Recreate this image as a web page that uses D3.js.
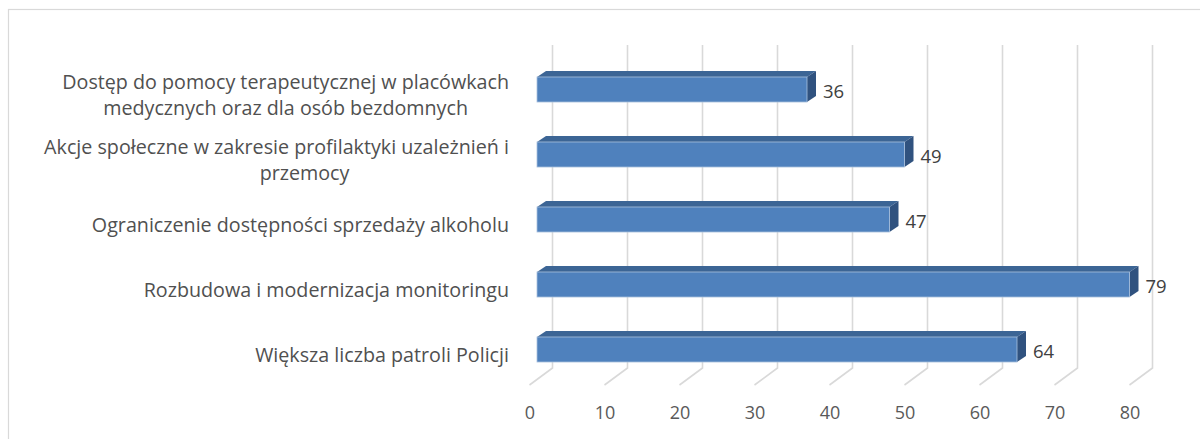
<!DOCTYPE html>
<html>
<head>
<meta charset="utf-8">
<script src="https://cdn.jsdelivr.net/npm/d3@7"></script>
<style>
  body { margin: 0; background: #fff; }
  svg { display: block; }
  .catLabel { font-family: "Open Sans", sans-serif; font-size: 19.7px; fill: #505050; }
  .tickLabel { font-family: "Open Sans", sans-serif; font-size: 18px; fill: #595959; }
  .valueLabel { font-family: "Open Sans", sans-serif; font-size: 18.5px; fill: #404040; }
</style>
</head>
<body>
<div id="chart"></div>
<script>
const WIDTH = 1200;
const HEIGHT = 439;

// data
const categories = [
    "Dostęp do pomocy terapeutycznej w placówkach\nmedycznych oraz dla osób bezdomnych",
    "Akcje społeczne w zakresie profilaktyki uzależnień i\nprzemocy",
    "Ograniczenie dostępności sprzedaży alkoholu",
    "Rozbudowa i modernizacja monitoringu",
    "Większa liczba patroli Policji"
];
const values = [36, 49, 47, 79, 64];
const tickValues = [0, 10, 20, 30, 40, 50, 60, 70, 80];

// 3d geometry (pixel offsets)
const FLOOR_FRONT_X = 529.5;
const FLOOR_DX = 23;
const FLOOR_DY = 17;
const GRID_TOP = 45;
const GRID_BOTTOM = 368;
const BAR_X0 = 537;
const BAR_DX = 9;
const BAR_DY = -6;
const LABEL_RIGHT = 509;
// excel wraps this one a bit off-centre
const LINE_NUDGE = { "przemocy": 28 };

let x = d3.scaleLinear().domain([0, 80]).range([0, 600]);
let y = d3.scaleBand().domain(categories).range([57, 382]);
const barHeight = y.bandwidth() * 0.385;

let svg = d3.select("#chart").append("svg")
    .attr("width", WIDTH)
    .attr("height", HEIGHT);

// chart frame
svg.append("rect")
    .attr("x", 8.5).attr("y", 9.5)
    .attr("width", 1300).attr("height", 600)
    .attr("fill", "none")
    .attr("stroke", "#d9d9d9")
    .attr("stroke-width", 1.2);

// gridlines: back wall + floor
let grid = svg.append("g").attr("stroke", "#d9d9d9").attr("stroke-width", 1.6).attr("fill", "none");
tickValues.forEach((t) => {
    let bx = FLOOR_FRONT_X + FLOOR_DX + x(t);
    let fx = FLOOR_FRONT_X + x(t);
    grid.append("path")
        .attr("d", `M${bx},${GRID_TOP}V${GRID_BOTTOM}L${fx},${GRID_BOTTOM + FLOOR_DY}`);
});

// x axis labels
let xAxis = d3.axisBottom(x).tickValues(tickValues).tickSize(0).tickPadding(0);
let axisG = svg.append("g")
    .attr("transform", `translate(${FLOOR_FRONT_X},419)`)
    .call(xAxis);
axisG.select(".domain").remove();
axisG.selectAll("text")
    .attr("class", "tickLabel")
    .attr("dy", 0)
    .attr("fill", null)
    .attr("font-size", null)
    .attr("font-family", null);

// bars
let bars = svg.append("g");
categories.forEach((cat, i) => {
    let v = values[i];
    let yc = y(cat) + y.bandwidth() / 2;
    let x0 = BAR_X0;
    let x1 = BAR_X0 + x(v);
    let y0 = yc - barHeight / 2;
    let y1 = yc + barHeight / 2;
    // top face
    bars.append("path")
        .attr("d", `M${x0},${y0}L${x0 + BAR_DX},${y0 + BAR_DY}L${x1 + BAR_DX},${y0 + BAR_DY}L${x1},${y0}Z`)
        .attr("fill", "#3c6595");
    // side face
    bars.append("path")
        .attr("d", `M${x1},${y0}L${x1 + BAR_DX},${y0 + BAR_DY}L${x1 + BAR_DX},${y1 + BAR_DY}L${x1},${y1}Z`)
        .attr("fill", "#30527f");
    // front face
    bars.append("rect")
        .attr("x", x0).attr("y", y0)
        .attr("width", x(v)).attr("height", barHeight)
        .attr("fill", "#4f81bd")
        .attr("stroke", "#a9c0de")
        .attr("stroke-width", 0.8);
    // value label
    bars.append("text")
        .attr("class", "valueLabel")
        .attr("x", x1 + BAR_DX + 7)
        .attr("y", yc + 8.5)
        .text(v);
});

// category labels, lines centred inside a right aligned block
let labels = svg.append("g");
categories.forEach((cat) => {
    let lines = cat.split("\n");
    let yc = y(cat) + y.bandwidth() / 2;
    let blockH = 14 + (lines.length - 1) * 26;
    let firstBase = yc + 5.5 - blockH / 2 + 14;
    let g = labels.append("g");
    let texts = lines.map((line, j) => g.append("text")
        .attr("class", "catLabel")
        .attr("y", firstBase + j * 26)
        .attr("text-anchor", "middle")
        .text(line));
    let blockW = d3.max(texts, (t) => t.node().getComputedTextLength());
    texts.forEach((t, j) => t.attr("x", LABEL_RIGHT - blockW / 2 + (LINE_NUDGE[lines[j]] || 0)));
});
</script>
</body>
</html>
